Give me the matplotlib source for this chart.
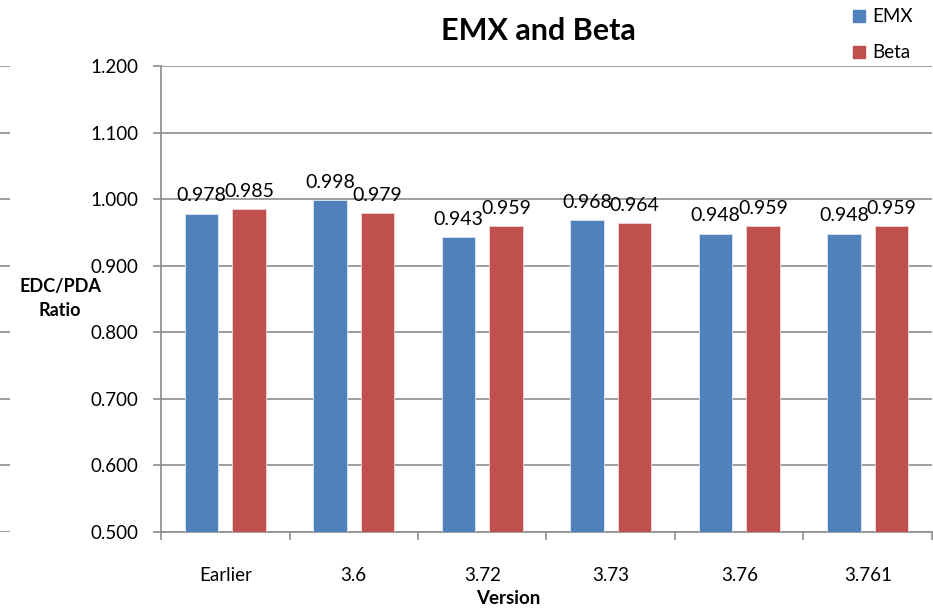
import matplotlib
matplotlib.use("Agg")
from matplotlib import pyplot as plt
from matplotlib.lines import Line2D
import numpy as np

plt.rcParams['font.family'] = ['Lato', 'DejaVu Sans']

# data
versions = ['Earlier', '3.6', '3.72', '3.73', '3.76', '3.761']
emx = [0.978, 0.998, 0.943, 0.968, 0.948, 0.948]
beta = [0.985, 0.979, 0.959, 0.964, 0.959, 0.959]
yticks = [0.5, 0.6, 0.7, 0.8, 0.9, 1.0, 1.1, 1.2]

BLUE = '#4F81BD'
RED = '#C0504D'
GRID = '#8c8c8c'

W, H = 933, 609
fig = plt.figure(figsize=(W / 100, H / 100), dpi=100)
ax = fig.add_axes([161 / W, (H - 532) / H, (932 - 161) / W, (532 - 66) / H])

x = np.arange(len(versions)) + 0.5
bw = 0.26
off = 0.185
b1 = ax.bar(x - off, emx, bw, color=BLUE, edgecolor='#dfe7f2', linewidth=0.6, label='EMX', zorder=3)
b2 = ax.bar(x + off, beta, bw, color=RED, edgecolor='#f0d6d5', linewidth=0.6, label='Beta', zorder=3)

for bars, vals in ((b1, emx), (b2, beta)):
    for r, v in zip(bars, vals):
        ax.text(r.get_x() + r.get_width() / 2, v + 0.014, f'{v:.3f}',
                ha='center', va='bottom', fontsize=14, zorder=4)

ax.set_ylim(0.5, 1.2)
ax.set_xlim(0, 6)
ax.set_yticks(yticks)
ax.set_yticklabels([f'{v:.3f}' for v in yticks], fontsize=13.5)
ax.yaxis.grid(True, color=GRID, linewidth=1.2, zorder=0)
ax.tick_params(axis='y', length=6, color=GRID, width=1.2, pad=10)

ax.set_xticks(np.arange(0, 7))
ax.set_xticklabels([])
ax.set_xticks(x, minor=True)
ax.set_xticklabels(versions, minor=True, fontsize=13.5)
ax.tick_params(axis='x', which='major', length=6, color=GRID, width=1.2)
ax.tick_params(axis='x', which='minor', length=0, pad=25)

for s in ('top', 'right'):
    ax.spines[s].set_visible(False)
for s in ('left', 'bottom'):
    ax.spines[s].set_color(GRID)
    ax.spines[s].set_linewidth(1.2)

fig.text(538 / W, 1 - 31 / H, 'EMX and Beta', ha='center', va='center',
         fontsize=22, fontweight='bold')
fig.text(60 / W, 1 - 298 / H, 'EDC/PDA\nRatio', ha='center', va='center',
         fontsize=13, fontweight='bold', linespacing=1.5)
fig.text(508 / W, 1 - 598 / H, 'Version', ha='center', va='center',
         fontsize=13.5, fontweight='bold')

handles = [Line2D([], [], marker='s', linestyle='none', markersize=9, color=BLUE),
           Line2D([], [], marker='s', linestyle='none', markersize=9, color=RED)]
fig.legend(handles, ['EMX', 'Beta'], loc='upper left', bbox_to_anchor=(842 / W, 1 + 1 / H),
           frameon=False, fontsize=13.5, handlelength=0.8, handletextpad=0.3,
           labelspacing=1.0, borderpad=0)

# stray gridline stubs at the far left edge
ax2 = fig.add_axes([0, (H - 532) / H, 10 / W, (532 - 66) / H])
ax2.set_ylim(0.5, 1.2)
for v in yticks:
    ax2.axhline(v, color=GRID, linewidth=1.2)
ax2.axis('off')

fig.savefig('out.png', dpi=100)
